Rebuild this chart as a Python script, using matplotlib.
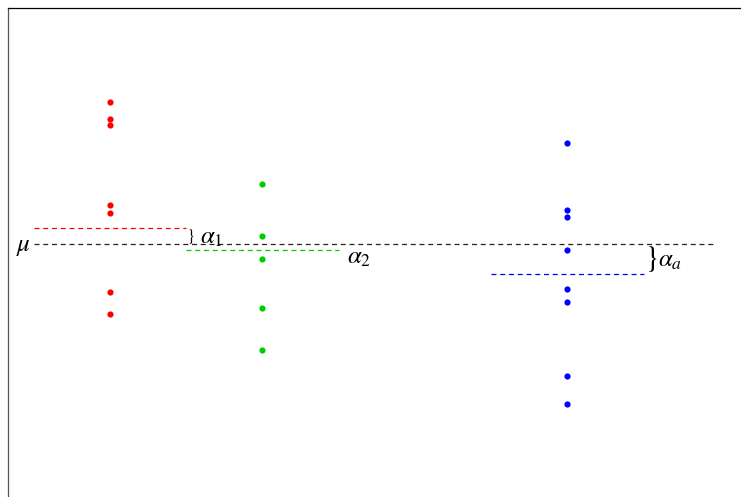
#!/usr/bin/env python3
# -*- coding: utf-8 -*-

import numpy as np
import matplotlib
matplotlib.use('Agg')
import matplotlib.pyplot as plt

plt.rcParams['mathtext.fontset'] = 'stix'

# group positions on the x axis (1, 2, ..., a)
group_x = [1, 2, 4]
group_colors = ['#ff0000', '#00cd00', '#0000ff']

red_y = [7.14, 6.29, 5.98, 1.99, 1.56, -2.39, -3.49]
green_y = [3.04, 0.44, -0.73, -3.18, -5.26]
blue_y = [5.08, 1.71, 1.38, -0.26, -2.24, -2.86, -6.59, -7.99]
group_values = [red_y, green_y, blue_y]

mu = 0.0
alphas = [0.84, -0.29, -1.46]
alpha_labels = [r'$\alpha_1$', r'$\alpha_2$', r'$\alpha_a$']
show_brace = [True, False, True]

fig = plt.figure(figsize=(7.41, 4.97), dpi=100)
ax = fig.add_axes([8 / 741, 0, 733 / 741, 489 / 497])
ax.set_xlim(0.331, 5.138)
ax.set_ylim(-12.625, 11.825)
ax.spines['right'].set_visible(False)
ax.spines['bottom'].set_visible(False)
ax.spines['left'].set_color('#555555')
ax.spines['left'].set_linewidth(0.9)
ax.spines['top'].set_linewidth(0.9)
ax.set_xticks([])
ax.set_yticks([])

dash = (0, (4, 3))
half = 0.5
fsize = 18

# grand mean
ax.plot([group_x[0] - half, 4.97], [mu, mu], color='#222222', lw=0.9, ls=dash)
ax.annotate(r'$\mu$', (group_x[0] - half, mu), xytext=(-2, -1), textcoords='offset points',
            ha='right', va='center', fontsize=fsize)

px_per_unit = 20.0  # pixels per y unit, used to size the braces

for x, vals, col, a, lab, brace in zip(group_x, group_values, group_colors, alphas, alpha_labels, show_brace):
    ax.scatter(np.full(len(vals), x), vals, s=20, color=col, zorder=3, linewidths=0)
    ax.plot([x - half, x + half], [mu + a, mu + a], color=col, lw=0.9, ls=dash)
    if brace:
        gap_px = abs(a) * px_per_unit
        fs = gap_px / 1.39 * 1.05
        ax.annotate(r'$\}$', (x + half, mu + a / 2), xytext=(0, 0), textcoords='offset points',
                    ha='left', va='center', fontsize=fs)
        ax.annotate(lab, (x + half, mu + a / 2), xytext=(10, -1), textcoords='offset points',
                    ha='left', va='center', fontsize=fsize)
    else:
        ax.annotate(lab, (x + half, mu + a), xytext=(6, -5), textcoords='offset points',
                    ha='left', va='center', fontsize=fsize)

fig.savefig('out.png', dpi=100)
